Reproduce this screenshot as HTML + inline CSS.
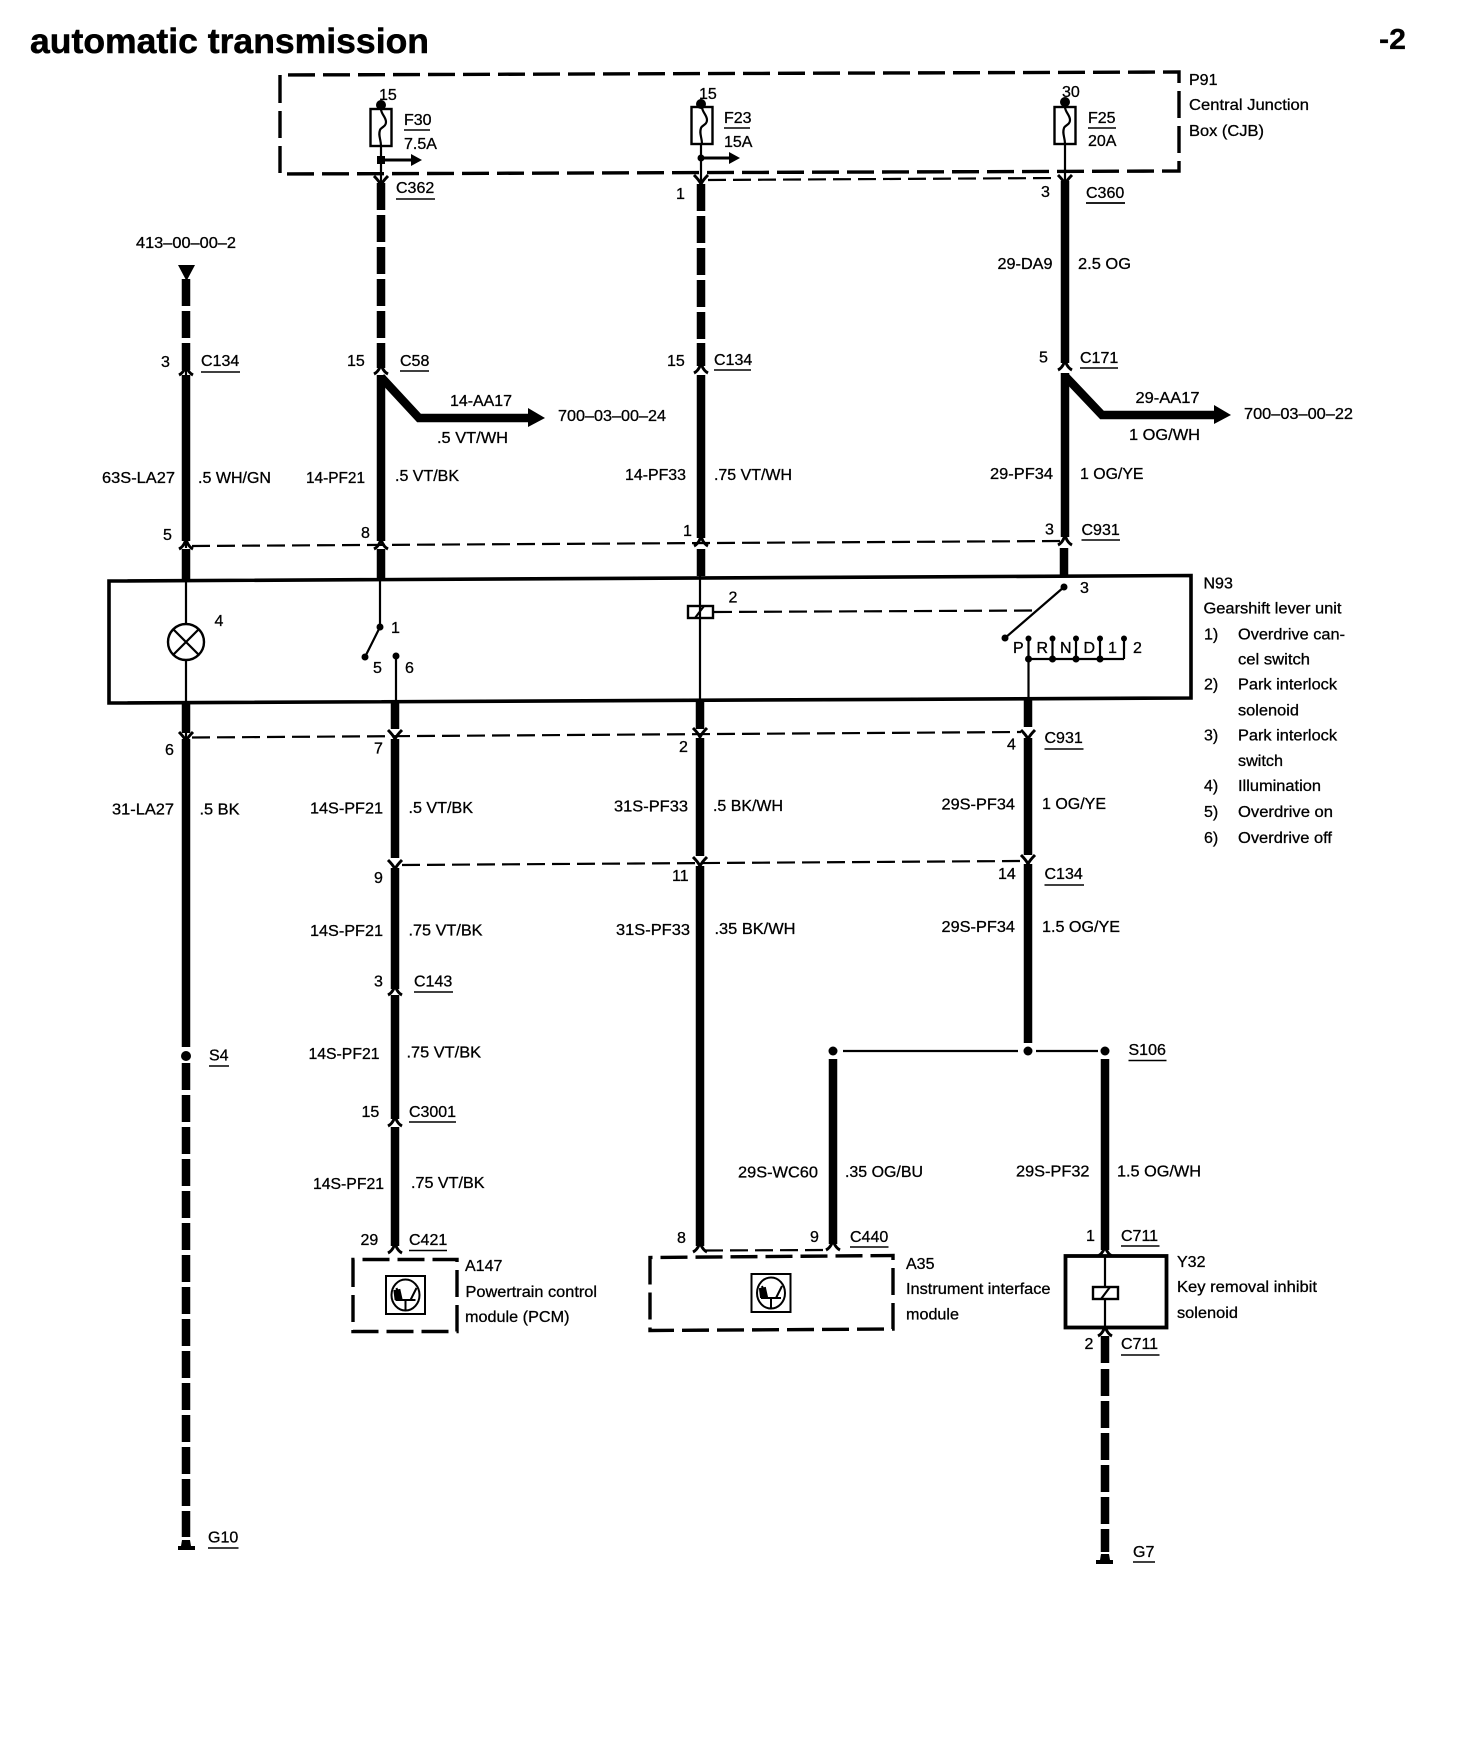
<!DOCTYPE html>
<html><head><meta charset="utf-8"><style>
html,body{margin:0;padding:0;background:#fff}
svg{display:block}
text{font-family:"Liberation Sans",Arial,sans-serif;font-size:16px;fill:#000;stroke:#000;stroke-width:.3px}
.w{stroke:#000;stroke-width:8.5;fill:none}
.d{stroke:#000;stroke-width:8.5;fill:none;stroke-dasharray:27 5}
.t{stroke:#000;stroke-width:2.2;fill:none}
.u{stroke:#000;stroke-width:1.5;fill:none}
.dl{stroke:#000;stroke-width:2.2;fill:none;stroke-dasharray:18 7}
.bd{stroke:#000;stroke-width:3.4;fill:none;stroke-dasharray:27 8}
</style></head><body>
<svg width="1472" height="1744" viewBox="0 0 1472 1744" xmlns="http://www.w3.org/2000/svg">
<defs>
<path id="cu" d="M-7 4Q-3 2-1-3H1Q3 2 7 4" fill="none" stroke="#000" stroke-width="3"/>
<path id="cd" d="M-7-5Q-2 0 0 4Q2 0 7-5" fill="none" stroke="#000" stroke-width="3"/>
<g id="ecu" fill="none" stroke="#000" stroke-width="2">
<rect x="-19.5" y="-19" width="39" height="38"/>
<ellipse cx="0" cy="0" rx="14" ry="15.5"/>
<path d="M-10 5H10M0 5V15M-9-7L-5 5M11-7L5 5"/>
<path d="M-11-4L-6-5L-4 4L-10 4Z" fill="#000"/>
</g>
<g id="fuse" fill="none" stroke="#000">
<rect x="-10.5" y="0" width="21" height="37" stroke-width="2.4" fill="#fff"/>
<path d="M0 0C0 5 5 8 5 13C5 18 0 18-1 21C-3 27 0 30 0 37" stroke-width="2.2"/>
</g>
</defs>
<rect width="1472" height="1744" fill="#fff"/>

<!-- title -->
<text x="30" y="53" style="font-size:35.5px;font-weight:bold;stroke-width:.5px" textLength="399" lengthAdjust="spacingAndGlyphs">automatic transmission</text>
<text x="1379" y="49" style="font-size:29px;font-weight:bold" textLength="27" lengthAdjust="spacingAndGlyphs">-2</text>

<!-- P91 box -->
<path class="bd" d="M280 102V75L1179 72V171L280 174V102"/>
<text x="1189" y="85">P91</text>
<text x="1189" y="110" textLength="120" lengthAdjust="spacingAndGlyphs">Central Junction</text>
<text x="1189" y="136" textLength="75" lengthAdjust="spacingAndGlyphs">Box (CJB)</text>

<!-- fuses -->
<path class="t" d="M381 105V185M701 104V185M1065 102V181"/>
<use href="#fuse" x="381" y="109"/><use href="#fuse" x="702" y="107"/><use href="#fuse" x="1065" y="107"/>
<circle cx="381" cy="105" r="5"/><circle cx="701" cy="104" r="5"/><circle cx="1065" cy="102" r="5"/>
<text x="379" y="100">15</text><text x="699" y="99">15</text><text x="1062" y="97">30</text>
<text x="404" y="125">F30</text><path class="u" d="M404 130H430"/><text x="404" y="149">7.5A</text>
<text x="724" y="123">F23</text><path class="u" d="M724 128H750"/><text x="724" y="147">15A</text>
<text x="1088" y="123">F25</text><path class="u" d="M1088 128H1116"/><text x="1088" y="146">20A</text>
<!-- small arrows -->
<rect x="377" y="156" width="8" height="8"/><path d="M381 160H412" stroke="#000" stroke-width="3"/><path d="M411 154L422 160L411 166Z"/>
<circle cx="701" cy="158" r="3.5"/><path d="M701 158H731" stroke="#000" stroke-width="3"/><path d="M729 152L740 158L729 164Z"/>

<!-- thin dashed connector brackets -->
<path class="dl" d="M708 180L1058 178"/>
<path class="dl" d="M192 546L1060 541"/>
<path class="dl" d="M192 737.5L1021 732"/>
<path class="dl" d="M402 865L1021 861"/>
<path class="dl" d="M705 1250.5L828 1250"/>

<!-- wire col 186 -->
<path d="M178 265H195L186.5 281Z"/>
<path class="d" d="M186 279V370"/>
<path class="w" d="M186 375V541M186 549V581M186 703V733M186 739V1047"/>
<circle cx="186" cy="1056" r="5"/>
<path class="d" d="M186 1063V1537"/>
<path d="M182 1540H190L191 1546H195V1550H178V1546H181Z"/>
<use href="#cu" x="186" y="371"/><use href="#cu" x="186" y="545"/><use href="#cd" x="186" y="737"/>
<path class="t" d="M186 370V376M186 541V548M186 733V738"/>

<!-- wire col 381 -->
<path class="d" d="M381 183V340"/>
<path class="w" d="M381 343V368M381 375V541M381 549V581"/>
<use href="#cd" x="381" y="181"/><use href="#cu" x="381" y="370"/><use href="#cu" x="381" y="545"/>
<path class="w" d="M381 377L419 418H530"/>
<path d="M528 408L545 418L528 427Z"/>

<!-- wire col 701 -->
<path class="d" d="M701 184V340"/>
<path class="w" d="M701 343V366M701 375V538M701 549V576"/>
<use href="#cd" x="701" y="180"/><use href="#cu" x="701" y="369"/><use href="#cu" x="701" y="542"/>

<!-- wire col 1065 -->
<path class="w" d="M1065 181V363M1065 373V537M1064 548V576"/>
<use href="#cd" x="1065" y="180"/><use href="#cu" x="1065" y="366"/><use href="#cu" x="1065" y="541"/>
<path class="w" d="M1065 376L1102 415H1216"/>
<path d="M1214 405L1231 415L1214 424Z"/>

<!-- N93 box -->
<path d="M109 581L1191 575.5V698L109 703Z" fill="none" stroke="#000" stroke-width="3.6"/>

<!-- lamp -->
<path class="t" d="M186 581V624M186 660V703"/>
<circle cx="186" cy="642" r="18" fill="none" stroke="#000" stroke-width="2.4"/>
<path class="t" d="M173.5 629.5L198.5 654.5M198.5 629.5L173.5 654.5"/>

<!-- switch 1 -->
<path class="t" d="M380 581V627M380 627L365 657M396 656V702"/>
<circle cx="380" cy="627" r="3.5"/><circle cx="365" cy="657" r="3.5"/><circle cx="396" cy="656" r="3.5"/>

<!-- solenoid park -->
<path class="t" d="M700 576V699"/>
<rect x="688" y="606" width="25" height="12" fill="#fff" stroke="#000" stroke-width="2.4"/>
<path class="t" d="M695 618L704 606M700 606V618"/>
<path class="dl" d="M714 612L1036 610.5"/>

<!-- PRND -->
<path class="t" d="M1064 587L1005 638M1028.5 638V698M1052.5 638V659M1076 638V659M1100 638V659M1124 638V659M1028.5 659H1124"/>
<circle cx="1064" cy="587" r="3.5"/><circle cx="1005" cy="638" r="3.5"/>
<circle cx="1028.5" cy="638.5" r="3"/><circle cx="1052.5" cy="638.5" r="3"/><circle cx="1076" cy="638.5" r="3"/><circle cx="1100" cy="638.5" r="3"/><circle cx="1124" cy="638.5" r="3"/>
<circle cx="1028.5" cy="659" r="3.5"/><circle cx="1052.5" cy="659" r="3.5"/><circle cx="1076" cy="659" r="3.5"/><circle cx="1100" cy="659" r="3.5"/>

<!-- wire col 395 -->
<path class="w" d="M395 702V729M395 739V858M395 868V989M395 995V1119M395 1127V1246"/>
<use href="#cd" x="395" y="735"/><use href="#cd" x="395" y="865"/><use href="#cu" x="395" y="991"/><use href="#cu" x="395" y="1122"/><use href="#cu" x="395" y="1249"/>

<!-- wire col 700 -->
<path class="w" d="M700 699V729M700 738V856M700 866V1246"/>
<use href="#cd" x="700" y="733"/><use href="#cd" x="700" y="862"/><use href="#cu" x="700" y="1248"/>

<!-- wire col 1028 -->
<path class="w" d="M1028 698V727M1028 738V855M1028 864V1043"/>
<use href="#cd" x="1028" y="735"/><use href="#cd" x="1028" y="860"/>

<!-- S106 -->
<circle cx="833" cy="1051" r="4.5"/><circle cx="1028" cy="1051" r="4.5"/><circle cx="1105" cy="1051" r="4.5"/>
<path class="t" d="M843 1051H1018M1036 1051H1098"/>
<path class="w" d="M833 1059V1244M1105 1059V1250"/>
<use href="#cu" x="833" y="1246"/><use href="#cu" x="1105" y="1252"/><use href="#cu" x="1105" y="1332"/>

<!-- A147 -->
<path class="bd" d="M353 1285V1259.5H457V1331.5H353V1285"/>
<use href="#ecu" x="405.5" y="1295"/>
<!-- A35 -->
<path class="bd" d="M650 1282V1257.5L893 1255.5V1329L650 1330.5V1282"/>
<use href="#ecu" x="771" y="1293"/>
<!-- Y32 -->
<rect x="1065.5" y="1256" width="101" height="71.5" fill="none" stroke="#000" stroke-width="3.8"/>
<path class="t" d="M1105 1256V1328"/>
<rect x="1093" y="1287" width="25" height="12" fill="#fff" stroke="#000" stroke-width="2.4"/>
<path class="t" d="M1101 1299L1110 1287"/>
<path class="w" d="M1105 1336V1363"/>
<path class="d" d="M1105 1369V1552"/>
<path d="M1101 1554H1109L1110 1560H1113V1564H1096V1560H1100Z"/>

<!-- labels top -->
<text x="136" y="248" textLength="100" lengthAdjust="spacingAndGlyphs">413–00–00–2</text>
<text x="161" y="367">3</text><text x="201" y="366">C134</text><path class="u" d="M201 372H240"/>
<text x="347" y="366">15</text><text x="400" y="366">C58</text><path class="u" d="M400 371H429"/>
<text x="396" y="193">C362</text><path class="u" d="M396 199H435"/>
<text x="676" y="199">1</text>
<text x="667" y="366">15</text><text x="714" y="365">C134</text><path class="u" d="M714 370H751"/>
<text x="1041" y="197">3</text><text x="1086" y="198">C360</text><path d="M1086 203H1125" stroke="#000" stroke-width="1.8"/>
<text x="997.5" y="269" textLength="55" lengthAdjust="spacingAndGlyphs">29-DA9</text>
<text x="1078" y="269" textLength="53" lengthAdjust="spacingAndGlyphs">2.5 OG</text>
<text x="1039" y="362.5">5</text><text x="1080" y="363">C171</text><path class="u" d="M1080 368H1118"/>
<text x="450" y="406" textLength="62" lengthAdjust="spacingAndGlyphs">14-AA17</text>
<text x="437" y="443" textLength="71" lengthAdjust="spacingAndGlyphs">.5 VT/WH</text>
<text x="558" y="421" textLength="108" lengthAdjust="spacingAndGlyphs">700–03–00–24</text>
<text x="1135.5" y="403" textLength="64" lengthAdjust="spacingAndGlyphs">29-AA17</text>
<text x="1129" y="440" textLength="71" lengthAdjust="spacingAndGlyphs">1 OG/WH</text>
<text x="1244" y="419" textLength="109" lengthAdjust="spacingAndGlyphs">700–03–00–22</text>
<text x="102" y="483" textLength="73" lengthAdjust="spacingAndGlyphs">63S-LA27</text>
<text x="198" y="483" textLength="73" lengthAdjust="spacingAndGlyphs">.5 WH/GN</text>
<text x="306" y="483" textLength="59" lengthAdjust="spacingAndGlyphs">14-PF21</text>
<text x="395" y="481" textLength="64" lengthAdjust="spacingAndGlyphs">.5 VT/BK</text>
<text x="625" y="480" textLength="61" lengthAdjust="spacingAndGlyphs">14-PF33</text>
<text x="714" y="480" textLength="78" lengthAdjust="spacingAndGlyphs">.75 VT/WH</text>
<text x="990" y="479" textLength="63" lengthAdjust="spacingAndGlyphs">29-PF34</text>
<text x="1080" y="479" textLength="63.5" lengthAdjust="spacingAndGlyphs">1 OG/YE</text>
<text x="163" y="540">5</text><text x="361" y="538">8</text><text x="683" y="536">1</text><text x="1045" y="534.5">3</text>
<text x="1081.5" y="535">C931</text><path class="u" d="M1081.5 540H1120"/>

<!-- labels in N93 -->
<text x="214.5" y="626">4</text>
<text x="391" y="633">1</text><text x="373" y="673">5</text><text x="405" y="673">6</text>
<text x="728.5" y="602.5">2</text>
<text x="1080" y="593">3</text>
<text x="1013" y="653">P</text><text x="1036.5" y="653">R</text><text x="1060" y="653">N</text><text x="1083.5" y="653">D</text><text x="1108" y="653">1</text><text x="1133" y="653">2</text>

<!-- N93 legend -->
<text x="1203.5" y="588.5">N93</text>
<text x="1203.5" y="613.5" textLength="138" lengthAdjust="spacingAndGlyphs">Gearshift lever unit</text>
<text x="1204" y="639.5">1)</text><text x="1238" y="639.5" textLength="107" lengthAdjust="spacingAndGlyphs">Overdrive can-</text>
<text x="1238" y="664.5" textLength="72" lengthAdjust="spacingAndGlyphs">cel switch</text>
<text x="1204" y="689.5">2)</text><text x="1238" y="689.5" textLength="99" lengthAdjust="spacingAndGlyphs">Park interlock</text>
<text x="1238" y="715.5" textLength="61" lengthAdjust="spacingAndGlyphs">solenoid</text>
<text x="1204" y="740.5">3)</text><text x="1238" y="740.5" textLength="99" lengthAdjust="spacingAndGlyphs">Park interlock</text>
<text x="1238" y="766" textLength="45" lengthAdjust="spacingAndGlyphs">switch</text>
<text x="1204" y="791">4)</text><text x="1238" y="791" textLength="83" lengthAdjust="spacingAndGlyphs">Illumination</text>
<text x="1204" y="817">5)</text><text x="1238" y="817" textLength="95" lengthAdjust="spacingAndGlyphs">Overdrive on</text>
<text x="1204" y="843">6)</text><text x="1238" y="843" textLength="94" lengthAdjust="spacingAndGlyphs">Overdrive off</text>

<!-- labels middle -->
<text x="165" y="755">6</text><text x="374" y="753.5">7</text><text x="679" y="752">2</text><text x="1007" y="749.5">4</text>
<text x="1044.5" y="743">C931</text><path class="u" d="M1044.5 749H1083.5"/>
<text x="112" y="814.5" textLength="62" lengthAdjust="spacingAndGlyphs">31-LA27</text>
<text x="199.5" y="814.5" textLength="40" lengthAdjust="spacingAndGlyphs">.5 BK</text>
<text x="310" y="813.5" textLength="73" lengthAdjust="spacingAndGlyphs">14S-PF21</text>
<text x="408.5" y="813" textLength="64.5" lengthAdjust="spacingAndGlyphs">.5 VT/BK</text>
<text x="614" y="811.5" textLength="74" lengthAdjust="spacingAndGlyphs">31S-PF33</text>
<text x="713" y="811" textLength="70" lengthAdjust="spacingAndGlyphs">.5 BK/WH</text>
<text x="941.5" y="809.5" textLength="73.5" lengthAdjust="spacingAndGlyphs">29S-PF34</text>
<text x="1042" y="809" textLength="64" lengthAdjust="spacingAndGlyphs">1 OG/YE</text>
<text x="374" y="883">9</text><text x="672" y="881">11</text><text x="998" y="879">14</text>
<text x="1044.5" y="879">C134</text><path class="u" d="M1044.5 885H1084"/>
<text x="310" y="936" textLength="73" lengthAdjust="spacingAndGlyphs">14S-PF21</text>
<text x="408.5" y="935.5" textLength="74" lengthAdjust="spacingAndGlyphs">.75 VT/BK</text>
<text x="616" y="935" textLength="74" lengthAdjust="spacingAndGlyphs">31S-PF33</text>
<text x="714.5" y="934" textLength="81" lengthAdjust="spacingAndGlyphs">.35 BK/WH</text>
<text x="941.5" y="932" textLength="73.5" lengthAdjust="spacingAndGlyphs">29S-PF34</text>
<text x="1042" y="932" textLength="78" lengthAdjust="spacingAndGlyphs">1.5 OG/YE</text>
<text x="374" y="986.5">3</text><text x="414" y="986.5">C143</text><path class="u" d="M414 992H453"/>
<text x="209" y="1060.5">S4</text><path class="u" d="M209 1066H229"/>
<text x="308.5" y="1059" textLength="71" lengthAdjust="spacingAndGlyphs">14S-PF21</text>
<text x="406.5" y="1057.5" textLength="74.5" lengthAdjust="spacingAndGlyphs">.75 VT/BK</text>
<text x="1128.5" y="1055">S106</text><path class="u" d="M1128.5 1060.5H1166.5"/>
<text x="361.5" y="1117">15</text><text x="409" y="1117" textLength="47" lengthAdjust="spacingAndGlyphs">C3001</text><path class="u" d="M409 1122H456"/>
<text x="313" y="1189" textLength="71" lengthAdjust="spacingAndGlyphs">14S-PF21</text>
<text x="411" y="1188" textLength="73.5" lengthAdjust="spacingAndGlyphs">.75 VT/BK</text>
<text x="738" y="1177.5" textLength="80" lengthAdjust="spacingAndGlyphs">29S-WC60</text>
<text x="845" y="1177" textLength="78" lengthAdjust="spacingAndGlyphs">.35 OG/BU</text>
<text x="1016" y="1176.5" textLength="73.5" lengthAdjust="spacingAndGlyphs">29S-PF32</text>
<text x="1117" y="1176.5" textLength="84" lengthAdjust="spacingAndGlyphs">1.5 OG/WH</text>

<!-- labels bottom -->
<text x="360.5" y="1245">29</text><text x="409" y="1245">C421</text><path class="u" d="M409 1250.5H447"/>
<text x="677" y="1243">8</text><text x="810" y="1242">9</text>
<text x="850" y="1242">C440</text><path class="u" d="M850 1247H888.5"/>
<text x="1086" y="1241">1</text><text x="1121" y="1241">C711</text><path class="u" d="M1121 1246H1159.5"/>
<text x="465" y="1271">A147</text>
<text x="465.5" y="1297" textLength="131.5" lengthAdjust="spacingAndGlyphs">Powertrain control</text>
<text x="465" y="1322" textLength="104.5" lengthAdjust="spacingAndGlyphs">module (PCM)</text>
<text x="906" y="1269">A35</text>
<text x="906" y="1294" textLength="144.5" lengthAdjust="spacingAndGlyphs">Instrument interface</text>
<text x="906" y="1319.5" textLength="53" lengthAdjust="spacingAndGlyphs">module</text>
<text x="1177" y="1267">Y32</text>
<text x="1177" y="1292" textLength="140" lengthAdjust="spacingAndGlyphs">Key removal inhibit</text>
<text x="1177" y="1318" textLength="61" lengthAdjust="spacingAndGlyphs">solenoid</text>
<text x="1084.5" y="1349">2</text><text x="1121" y="1349">C711</text><path class="u" d="M1121 1355H1159.5"/>
<text x="208" y="1542.5">G10</text><path class="u" d="M208 1548H238.5"/>
<text x="1133" y="1557">G7</text><path class="u" d="M1133 1562H1155"/>
</svg>
</body></html>
